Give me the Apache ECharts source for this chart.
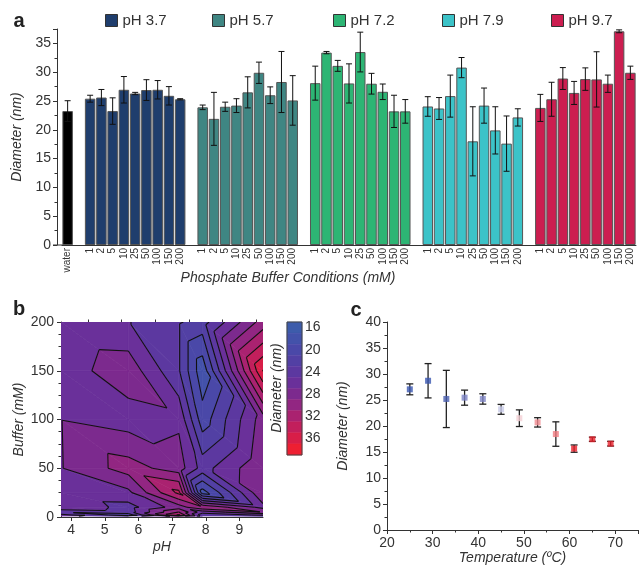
<!DOCTYPE html>
<html><head><meta charset="utf-8">
<script src="https://cdn.jsdelivr.net/npm/echarts@6/dist/echarts.min.js"></script>
<style>html,body{margin:0;padding:0;background:#fff}#c{width:640px;height:572px}</style>
</head><body><div id="c"></div>
<script>
// ---------- data ----------
const bufferLabels = ['1','2','5','10','25','50','100','150','200'];
const bufferValues = [1,2,5,10,25,50,100,150,200];
const phNames = ['pH 3.7','pH 5.7','pH 7.2','pH 7.9','pH 9.7'];
const phValues = [3.7,5.7,7.2,7.9,9.7];
const waterMean = 23.25;
const waterErr = 1.8;
const ph37Mean = [25.4,25.6,23.25,26.95,26.3,26.9,26.95,25.9,25.3];
const ph37Err  = [0.6,1.4,2.3,2.3,0.2,1.8,1.6,1.6,0.1];
const ph57Mean = [23.9,21.9,24.0,24.2,26.5,29.9,26.0,28.3,25.1];
const ph57Err  = [0.4,4.6,0.8,1.2,2.7,1.85,1.45,5.3,4.3];
const ph72Mean = [28.1,33.4,31.1,28.05,33.5,28.0,26.6,23.2,23.2];
const ph72Err  = [2.95,0.2,0.95,3.4,3.45,1.8,1.35,2.8,2.05];
const ph79Mean = [24.05,23.7,25.85,30.8,18.0,24.2,19.9,17.6,22.15];
const ph79Err  = [1.7,1.9,3.65,1.75,6.0,3.05,4.1,4.8,1.5];
const ph97Mean = [23.8,25.3,28.9,26.4,28.8,28.75,28.0,37.1,29.9];
const ph97Err  = [2.35,2.95,1.9,2.0,1.95,4.8,1.5,0.25,1.15];

const contourLevels = [15,17,19,21,23,25,27,29,31,33,35,37,39];
const colorbarTicks = [16,20,24,28,32,36];

const temperature  = [25,29,33,37,41,45,49,53,57,61,65,69];
const tempDiameter = [27.05,28.7,25.2,25.45,25.2,23.2,21.5,20.7,18.45,15.65,17.45,16.6];
const tempErr      = [1.05,3.3,5.5,1.45,1.0,0.95,1.6,0.9,2.35,0.7,0.4,0.45];

// ---------- styles ----------
const FONT = '"Liberation Sans", Arial, Helvetica, sans-serif';
const TXT = '#333';
const groupColors = ['#1f3e6d','#3f8683','#2db574','#3cc3c8','#cc1e50'];
const bandColors = ['#3d5cab','#4352aa','#4a48a8','#5240a4','#5c38a0','#6a309a','#7c2a8e','#922682','#aa2270','#c21f5c','#d81e48','#ee1f32'];
const tempColors = ['#3a56b0','#3a56b0','#4a5fb0','#7a82c4','#7f86c6','#c8cbe8','#f4d0d4','#f08a90','#f07a80','#e8202a','#e8202a','#e8202a'];
const legendLeft = [105,212,333,442,551];

// ---------- build panel a ----------
const groupMeans = [ph37Mean,ph57Mean,ph72Mean,ph79Mean,ph97Mean];
const groupErrs = [ph37Err,ph57Err,ph72Err,ph79Err,ph97Err];
const cats = ['water'];
groupMeans.forEach(() => { cats.push(''); bufferLabels.forEach(l => cats.push(l)); });
const slot = (g, k) => 2 + g * 10 + k;
const waterData = cats.map((c, i) => i === 0 ? waterMean : '-');
const errA = [[0, waterMean, waterErr]];
const barSeries = groupMeans.map((m, g) => {
  const d = cats.map(() => '-');
  m.forEach((v, k) => { d[slot(g, k)] = v; errA.push([slot(g, k), v, groupErrs[g][k]]); });
  return {
    name: phNames[g], type: 'bar', xAxisIndex: 0, yAxisIndex: 0, data: d,
    barWidth: 10.5, barGap: '-100%',
    itemStyle: {color: groupColors[g], borderColor: '#555', borderWidth: 1}
  };
});
barSeries.unshift({
  name: 'water', type: 'bar', xAxisIndex: 0, yAxisIndex: 0, data: waterData,
  barWidth: 10.5, barGap: '-100%', itemStyle: {color: '#000', borderColor: '#555', borderWidth: 1}
});

function errRender(cap, width, color) {
  return function (params, api) {
    const x = api.value(0), m = api.value(1), e = api.value(2);
    const top = api.coord([x, m + e]);
    const bot = api.coord([x, m - e]);
    const s = {stroke: color, lineWidth: width};
    return {type: 'group', children: [
      {type: 'line', shape: {x1: top[0], y1: top[1], x2: bot[0], y2: bot[1]}, style: s},
      {type: 'line', shape: {x1: top[0] - cap, y1: top[1], x2: top[0] + cap, y2: top[1]}, style: s},
      {type: 'line', shape: {x1: bot[0] - cap, y1: bot[1], x2: bot[0] + cap, y2: bot[1]}, style: s}
    ]};
  };
}

// ---------- build panel b (contours) ----------
const triangles = [];
for (let g = 0; g < phValues.length - 1; g++) {
  for (let k = 0; k < bufferValues.length - 1; k++) {
    const A = [g, k], B = [g + 1, k], C = [g, k + 1], D = [g + 1, k + 1];
    triangles.push([A, B, C]);
    triangles.push([C, B, D]);
  }
}
const triData = triangles.map((t, i) => {
  const cx = t.reduce((s, p) => s + phValues[p[0]], 0) / 3;
  const cy = t.reduce((s, p) => s + bufferValues[p[1]], 0) / 3;
  return [cx, cy, i];
});
function triPts(i) {
  return triangles[i].map(([g, k]) => ({x: phValues[g], y: bufferValues[k], v: groupMeans[g][k]}));
}
function clipPoly(poly, level, above) {
  const out = [];
  const inside = p => above ? p.v >= level : p.v <= level;
  for (let i = 0; i < poly.length; i++) {
    const a = poly[i], b = poly[(i + 1) % poly.length];
    const ia = inside(a), ib = inside(b);
    if (ia) out.push(a);
    if (ia !== ib) {
      const t = (level - a.v) / (b.v - a.v);
      out.push({x: a.x + t * (b.x - a.x), y: a.y + t * (b.y - a.y), v: level});
    }
  }
  return out;
}
function fillRender(params, api) {
  const pts = triPts(api.value(2));
  const children = [];
  for (let b = 0; b < contourLevels.length - 1; b++) {
    let poly = clipPoly(pts, contourLevels[b], true);
    if (poly.length < 3) continue;
    poly = clipPoly(poly, contourLevels[b + 1], false);
    if (poly.length < 3) continue;
    children.push({type: 'polygon', shape: {points: poly.map(p => api.coord([p.x, p.y]))},
      style: {fill: bandColors[b], stroke: bandColors[b], lineWidth: 0.7}});
  }
  return {type: 'group', children};
}
function lineRender(params, api) {
  const pts = triPts(api.value(2));
  const children = [];
  for (let l = 1; l < contourLevels.length - 1; l++) {
    const L = contourLevels[l];
    const seg = [];
    for (let i = 0; i < 3; i++) {
      const a = pts[i], b = pts[(i + 1) % 3];
      if ((a.v - L) * (b.v - L) < 0) {
        const t = (L - a.v) / (b.v - a.v);
        seg.push(api.coord([a.x + t * (b.x - a.x), a.y + t * (b.y - a.y)]));
      }
    }
    if (seg.length === 2) {
      children.push({type: 'line', shape: {x1: seg[0][0], y1: seg[0][1], x2: seg[1][0], y2: seg[1][1]},
        style: {stroke: '#111', lineWidth: 1.1}});
    }
  }
  return {type: 'group', children};
}
const bandData = bandColors.map((c, i) => [0.5, (contourLevels[i] + contourLevels[i + 1]) / 2, contourLevels[i], contourLevels[i + 1], i]);

// ---------- common axis helpers ----------
const lbl = (o) => Object.assign({color: TXT, fontSize: 14, fontFamily: FONT}, o || {});
const nameStyle = {color: TXT, fontSize: 14, fontStyle: 'italic', fontFamily: FONT};
const axLine = {show: true, lineStyle: {color: '#333', width: 1}};

const option = {
  animation: false,
  backgroundColor: '#fff',
  grid: [
    {left: 62, right: 4, top: 29, height: 216},          // a
    {left: 61, width: 202, top: 322, height: 195},        // b
    {left: 287, width: 15, top: 322, height: 133},        // colorbar
    {left: 387, right: 2, top: 322, height: 208}          // c
  ],
  legend: phNames.map((n, i) => ({
    data: [{name: n, itemStyle: {borderColor: '#333', borderWidth: 1}}],
    left: legendLeft[i], top: 13, itemWidth: 12, itemHeight: 12, icon: 'rect',
    selectedMode: false, padding: 0,
    textStyle: {fontSize: 15, color: TXT, fontFamily: FONT}
  })),
  xAxis: [
    {gridIndex: 0, type: 'category', data: cats, boundaryGap: true,
     axisLine: axLine, axisTick: {show: false},
     axisLabel: lbl({fontSize: 10, rotate: 90, interval: 0, margin: 3})},
    {gridIndex: 1, type: 'value', min: 3.7, max: 9.7, axisLine: axLine,
     axisTick: {show: true, length: 4, customValues: [4,5,6,7,8,9], lineStyle: {color: '#333'}},
     axisLabel: lbl({customValues: [4,5,6,7,8,9], margin: 6}), splitLine: {show: false},
     name: 'pH', nameLocation: 'middle', nameGap: 23, nameTextStyle: nameStyle},
    {gridIndex: 1, type: 'value', min: 3.7, max: 9.7, axisLine: {show: false},
     axisTick: {show: true, length: 2.5, customValues: [4.5,5.5,6.5,7.5,8.5,9.5], lineStyle: {color: '#333'}},
     axisLabel: {show: false}, splitLine: {show: false}},
    {gridIndex: 2, type: 'value', min: 0, max: 1, show: false},
    {gridIndex: 3, type: 'value', min: 20, max: 75, interval: 10, axisLine: axLine,
     axisTick: {show: true, length: 4, lineStyle: {color: '#333'}},
     minorTick: {show: true, splitNumber: 2, length: 2.5, lineStyle: {color: '#333'}},
     axisLabel: lbl({margin: 6, showMaxLabel: false}), splitLine: {show: false},
     name: 'Temperature (ºC)', nameLocation: 'middle', nameGap: 21, nameTextStyle: nameStyle}
  ],
  yAxis: [
    {gridIndex: 0, type: 'value', min: 0, max: 37.5, interval: 5, offset: 5,
     axisLine: axLine, axisTick: {show: true, length: 4, lineStyle: {color: '#333'}},
     minorTick: {show: true, splitNumber: 2, length: 2.5, lineStyle: {color: '#333'}},
     axisLabel: lbl({margin: 6, showMaxLabel: false}), splitLine: {show: false},
     name: 'Diameter (nm)', nameLocation: 'middle', nameGap: 28, nameTextStyle: nameStyle},
    {gridIndex: 1, type: 'value', min: 0, max: 200, interval: 50,
     axisLine: axLine, axisTick: {show: true, length: 4, lineStyle: {color: '#333'}},
     minorTick: {show: true, splitNumber: 4, length: 2.5, lineStyle: {color: '#333'}},
     axisLabel: lbl({margin: 7}), splitLine: {show: false},
     name: 'Buffer (mM)', nameLocation: 'middle', nameGap: 35, nameTextStyle: nameStyle},
    {gridIndex: 2, type: 'value', min: 15, max: 39, inverse: true, position: 'right',
     axisLine: {show: false}, axisTick: {show: false}, splitLine: {show: false},
     axisLabel: lbl({customValues: colorbarTicks, margin: 3})},
    {gridIndex: 3, type: 'value', min: 0, max: 40, interval: 5,
     axisLine: axLine, axisTick: {show: true, length: 4, lineStyle: {color: '#333'}},
     minorTick: {show: true, splitNumber: 2, length: 2.5, lineStyle: {color: '#333'}},
     axisLabel: lbl({margin: 6}), splitLine: {show: false},
     name: 'Diameter (nm)', nameLocation: 'middle', nameGap: 37, nameTextStyle: nameStyle}
  ],
  graphic: [
    {type: 'line', shape: {x1: 53, y1: 245, x2: 63, y2: 245}, style: {stroke: '#333', lineWidth: 1}},
    {type: 'text', x: 288, y: 278, style: {text: 'Phosphate Buffer Conditions (mM)', fill: TXT,
      font: 'italic 14px ' + FONT, textAlign: 'center', textVerticalAlign: 'middle'}},
    {type: 'text', x: 277, y: 388, rotation: Math.PI / 2, style: {text: 'Diameter (nm)', fill: TXT,
      font: 'italic 14px ' + FONT, textAlign: 'center', textVerticalAlign: 'middle'}},
    {type: 'text', x: 19, y: 21, style: {text: 'a', fill: '#222', font: 'bold 20px ' + FONT, textAlign: 'center', textVerticalAlign: 'middle'}},
    {type: 'text', x: 19, y: 309, style: {text: 'b', fill: '#222', font: 'bold 20px ' + FONT, textAlign: 'center', textVerticalAlign: 'middle'}},
    {type: 'text', x: 356, y: 310, style: {text: 'c', fill: '#222', font: 'bold 20px ' + FONT, textAlign: 'center', textVerticalAlign: 'middle'}}
  ],
  series: [
    ...barSeries,
    {name: 'errA', type: 'custom', xAxisIndex: 0, yAxisIndex: 0, data: errA, z: 5,
     renderItem: errRender(3, 1, '#111'), encode: {x: 0, y: 1}},
    {name: 'fill', type: 'custom', xAxisIndex: 1, yAxisIndex: 1, data: triData, clip: true, z: 2,
     renderItem: fillRender, encode: {x: 0, y: 1}},
    {name: 'lines', type: 'custom', xAxisIndex: 1, yAxisIndex: 1, data: triData, clip: true, z: 3,
     renderItem: lineRender, encode: {x: 0, y: 1}},
    {name: 'colorbar', type: 'custom', xAxisIndex: 3, yAxisIndex: 2, data: bandData, z: 2,
     encode: {x: 0, y: 1},
     renderItem: function (params, api) {
       const p1 = api.coord([0, api.value(2)]), p2 = api.coord([1, api.value(3)]);
       const c = bandColors[api.value(4)];
       return {type: 'rect', shape: {x: p1[0], y: p1[1], width: p2[0] - p1[0], height: p2[1] - p1[1]},
         style: {fill: c, stroke: c, lineWidth: 0.5}};
     }},
    {name: 'colorbarFrame', type: 'custom', xAxisIndex: 3, yAxisIndex: 2, data: [[0.5, 27]], z: 3,
     encode: {x: 0, y: 1},
     renderItem: function (params, api) {
       const p1 = api.coord([0, contourLevels[0]]), p2 = api.coord([1, contourLevels[contourLevels.length - 1]]);
       return {type: 'rect', shape: {x: p1[0], y: p1[1], width: p2[0] - p1[0], height: p2[1] - p1[1]},
         style: {fill: null, stroke: '#444', lineWidth: 1}};
     }},
    {name: 'errC', type: 'custom', xAxisIndex: 4, yAxisIndex: 3, z: 3,
     data: temperature.map((t, i) => [t, tempDiameter[i], tempErr[i]]),
     renderItem: errRender(3.5, 1.3, '#222'), encode: {x: 0, y: 1}},
    {name: 'temp', type: 'scatter', xAxisIndex: 4, yAxisIndex: 3, symbol: 'rect', symbolSize: 6, z: 4,
     data: temperature.map((t, i) => ({value: [t, tempDiameter[i]], itemStyle: {color: tempColors[i]}}))}
  ]
};
const chart = echarts.init(document.getElementById('c'), null, {renderer: 'canvas'});
chart.setOption(option);
</script>
</body></html>
